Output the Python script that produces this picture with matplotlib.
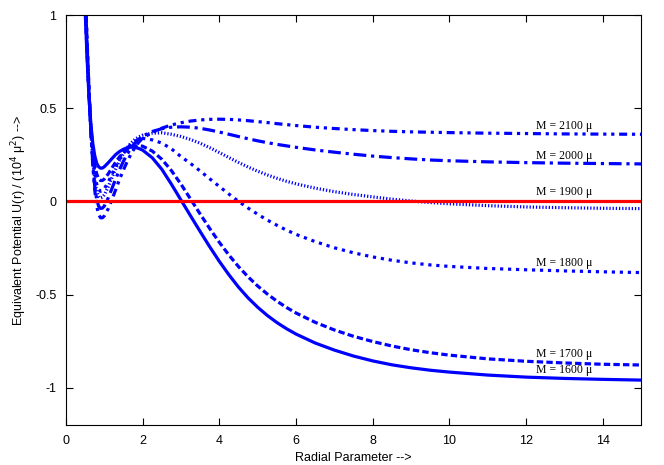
import numpy as np
import matplotlib
matplotlib.use('Agg')
import matplotlib.pyplot as plt

# radial parameter grid
r = [0.45, 0.5, 0.55, 0.6, 0.65, 0.7, 0.75, 0.8, 0.85, 0.9, 0.95, 1.0,
     1.1, 1.2, 1.3, 1.4, 1.5, 1.6, 1.7, 1.8, 1.9, 2.0,
     2.25, 2.5, 2.75, 3.0, 3.25, 3.5, 3.75, 4.0, 4.25, 4.5, 4.75, 5.0, 5.25, 5.5, 5.75, 6.0,
     6.5, 7.0, 7.5, 8.0, 8.5, 9.0, 9.5, 10.0,
     11.0, 12.0, 13.0, 14.0, 15.0]

u1600 = [1.35, 1.02, 0.77, 0.56, 0.41, 0.31, 0.245, 0.205, 0.186, 0.178, 0.179, 0.186,
         0.207, 0.23, 0.252, 0.268, 0.28, 0.288, 0.291, 0.29, 0.284, 0.275,
         0.234, 0.172, 0.092, 0.007, -0.078, -0.162, -0.244, -0.322, -0.394, -0.46, -0.518, -0.568,
         -0.612, -0.65, -0.683, -0.712,
         -0.76, -0.798, -0.83, -0.856, -0.877, -0.893, -0.906, -0.916,
         -0.932, -0.943, -0.95, -0.955, -0.959]
u1700 = [1.38, 1.05, 0.79, 0.565, 0.395, 0.275, 0.195, 0.148, 0.122, 0.112, 0.112, 0.12,
         0.147, 0.18, 0.212, 0.24, 0.262, 0.279, 0.291, 0.297, 0.299, 0.296,
         0.27, 0.226, 0.165, 0.092, 0.012, -0.068, -0.146, -0.22, -0.288, -0.35, -0.405, -0.454,
         -0.497, -0.535, -0.569, -0.599,
         -0.649, -0.69, -0.724, -0.752, -0.776, -0.796, -0.812, -0.825,
         -0.845, -0.858, -0.867, -0.874, -0.878]
u1800 = [1.40, 1.08, 0.81, 0.57, 0.38, 0.245, 0.15, 0.093, 0.064, 0.054, 0.057, 0.068,
         0.103, 0.145, 0.188, 0.226, 0.259, 0.287, 0.308, 0.323, 0.333, 0.338,
         0.33, 0.313, 0.282, 0.24, 0.203, 0.163, 0.121, 0.08, 0.039, 0.0, -0.036, -0.069,
         -0.1, -0.128, -0.154, -0.177,
         -0.216, -0.249, -0.276, -0.298, -0.316, -0.33, -0.341, -0.349,
         -0.36, -0.367, -0.373, -0.378, -0.382]
u1900 = [1.42, 1.10, 0.83, 0.58, 0.37, 0.22, 0.115, 0.055, 0.027, 0.018, 0.022, 0.035,
         0.078, 0.128, 0.176, 0.22, 0.258, 0.29, 0.314, 0.333, 0.346, 0.355,
         0.366, 0.368, 0.36, 0.348, 0.332, 0.312, 0.288, 0.262, 0.235, 0.209, 0.184, 0.162,
         0.142, 0.124, 0.108, 0.094,
         0.071, 0.052, 0.037, 0.024, 0.012, 0.002, -0.006, -0.013,
         -0.023, -0.03, -0.034, -0.037, -0.039]
u2000 = [1.45, 1.12, 0.85, 0.59, 0.37, 0.20, 0.08, 0.01, -0.025, -0.038, -0.036, -0.025,
         0.018, 0.07, 0.122, 0.172, 0.216, 0.255, 0.288, 0.314, 0.334, 0.35,
         0.375, 0.39, 0.398, 0.40, 0.398, 0.392, 0.383, 0.372, 0.36, 0.348, 0.336, 0.325,
         0.315, 0.306, 0.298, 0.29,
         0.276, 0.264, 0.253, 0.243, 0.235, 0.228, 0.222, 0.218,
         0.212, 0.208, 0.205, 0.203, 0.201]
u2100 = [1.48, 1.15, 0.87, 0.60, 0.37, 0.19, 0.06, -0.025, -0.07, -0.088, -0.088, -0.078,
         -0.04, 0.01, 0.065, 0.12, 0.17, 0.215, 0.256, 0.29, 0.318, 0.34,
         0.37, 0.393, 0.41, 0.422, 0.431, 0.437, 0.44, 0.441, 0.44, 0.437, 0.433, 0.428,
         0.423, 0.417, 0.412, 0.407,
         0.398, 0.391, 0.385, 0.38, 0.376, 0.373, 0.371, 0.369,
         0.366, 0.364, 0.362, 0.361, 0.36]

labels = ['M = 1600 μ', 'M = 1700 μ', 'M = 1800 μ', 'M = 1900 μ', 'M = 2000 μ', 'M = 2100 μ']
label_y = [-0.906, -0.82, -0.33, 0.051, 0.246, 0.406]
label_x = 13.0

curves = [u1600, u1700, u1800, u1900, u2000, u2100]
styles = ['-', (0, (2, 1)), (0, (1, 1.5)), (0, (0.4, 0.6)), (0, (4, 1.5, 1, 1.5)),
          (0, (1, 1.5, 1, 1.5, 2.5, 1.5))]

plt.rcParams['font.family'] = 'Liberation Sans'

fig = plt.figure(figsize=(6.64, 4.65), dpi=100)
ax = fig.add_axes([0.0994, 0.086, 0.866, 0.8817])

for u, ls in zip(curves, styles):
    ax.plot(r, u, color='blue', linestyle=ls, linewidth=2.3)

ax.axhline(0, color='red', linewidth=2.3)

for lab, y in zip(labels, label_y):
    ax.text(label_x, y, lab, ha='center', va='center', fontsize=8.5,
            family='Liberation Serif')

ax.set_xlim(0, 15)
ax.set_ylim(-1.2, 1)
ax.set_xticks(range(0, 15, 2))
ax.set_yticks([-1, -0.5, 0, 0.5, 1])
ax.set_yticklabels(['-1', '-0.5', '0', '0.5', '1'])
ax.tick_params(direction='in', top=True, right=True, labelsize=9, length=5, pad=7)
ax.set_xlabel('Radial Parameter -->', fontsize=9)
ax.set_ylabel('Equivalent Potential U(r) / (10$^4$ μ$^2$) -->', fontsize=9)

fig.savefig('out.png', dpi=100)
